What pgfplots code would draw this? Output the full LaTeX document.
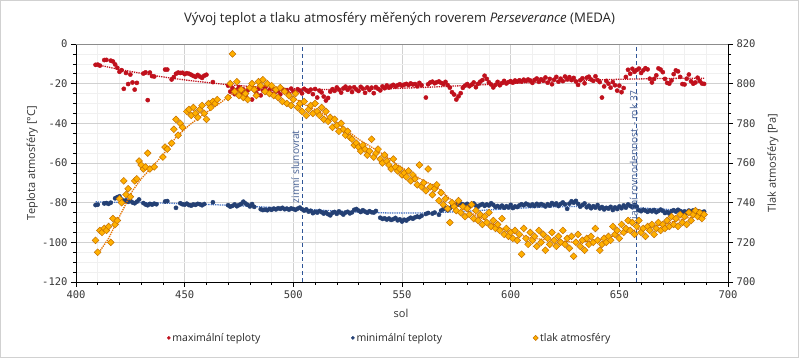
\documentclass[border=0pt]{standalone}
\usepackage{pgfplots}
\pgfplotsset{compat=1.18}
\usepackage{fontspec}
\setmainfont{Open Sans}
\newfontfamily\monofont{DejaVu Sans Mono}
\definecolor{cmax}{RGB}{192,16,28}
\definecolor{cmin}{RGB}{36,64,116}
\definecolor{cminl}{RGB}{68,114,196}
\definecolor{cpfill}{RGB}{255,176,0}
\definecolor{cpedge}{RGB}{196,112,0}
\definecolor{cline}{RGB}{47,85,151}
\definecolor{clab}{RGB}{72,98,150}
\begin{document}
\begin{tikzpicture}[x=1pt,y=1pt]
\useasboundingbox (0,0) rectangle (799,358);
\fill[white] (0,0) rectangle (799,358);
\draw[black!18, line width=1pt] (0.5,0.5) rectangle (798.5,357.5);
\node[font=\fontsize{13.2}{15}\selectfont, text=black!85] at (399.5,339) {Vývoj teplot a tlaku atmosféry měřených roverem \textit{Perseverance} (MEDA)};

\begin{axis}[
  at={(76pt,76pt)}, anchor=south west, scale only axis,
  width=652pt, height=238pt,
  xmin=400, xmax=700, ymin=-120, ymax=0,
  axis x line*=bottom, axis y line*=left,
  xtick={400,450,...,700}, ytick={-120,-100,...,0},
  minor x tick num=4, minor y tick num=3,
  grid=both, major grid style={draw=black!18, line width=0.8pt}, minor grid style={draw=black!6, line width=0.6pt},
  tick align=outside, major tick length=5pt, minor tick length=3pt,
  every tick/.style={black, line width=0.6pt},
  axis line style={black, line width=0.8pt},
  /pgf/number format/assume math mode=true,
  /pgf/number format/1000 sep={},
  ticklabel style={font=\monofont\fontsize{10.5}{12}\selectfont, text=black!78},
  xlabel={sol}, ylabel={Teplota atmosféry [°C]},
  label style={font=\fontsize{11}{13}\selectfont, text=black!80},
  xlabel style={at={(axis description cs:0.4985,-0.13)}, anchor=center},
  ylabel style={at={(axis description cs:-0.067,0.5)}, anchor=center},
  clip=false,
]
\draw[black!45, line width=0.8pt] (rel axis cs:0,1) -- (rel axis cs:1,1);
% minimal temperatures
\addplot[only marks, mark=*, mark size=2.1pt, mark options={draw=cmin, fill=cmin}] table[row sep=\\] {
409 -81.2\\410 -81.0\\413 -80.4\\414 -80.2\\415 -80.6\\416 -80.0\\418 -77.8\\419 -77.2\\420 -76.8\\421 -78.4\\422 -79.2\\423 -78.8\\424 -79.6\\425 -79.0\\426 -79.9\\427 -80.3\\428 -79.5\\429 -78.4\\
431 -80.2\\432 -80.9\\433 -81.3\\434 -80.6\\435 -81.0\\436 -80.5\\437 -80.8\\441 -79.4\\442 -79.2\\446 -82.6\\448 -80.3\\449 -80.8\\450 -81.0\\451 -80.5\\452 -81.2\\453 -81.5\\454 -80.9\\455 -81.1\\456 -80.6\\457 -80.8\\458 -81.3\\459 -80.7\\463 -79.8\\
470 -81.3\\471 -82.0\\472 -81.6\\473 -80.9\\474 -81.8\\475 -81.2\\476 -80.6\\477 -79.5\\478 -80.4\\479 -81.1\\480 -81.9\\481 -80.7\\482 -82.1\\485 -83.3\\486 -83.7\\487 -83.5\\488 -83.8\\489 -83.2\\490 -83.6\\
491 -83.0\\492 -83.4\\493 -82.8\\494 -83.1\\495 -82.6\\496 -83.3\\497 -83.0\\498 -83.5\\499 -82.9\\500 -83.2\\501 -83.6\\502 -83.0\\503 -82.5\\504 -83.3\\505 -84.0\\506 -83.4\\507 -84.5\\508 -84.1\\509 -85.3\\510 -84.6\\
511 -85.0\\512 -84.2\\513 -84.8\\514 -85.5\\515 -84.9\\516 -85.8\\517 -86.4\\518 -85.1\\519 -84.7\\520 -85.6\\521 -84.4\\522 -85.2\\523 -86.0\\524 -85.0\\525 -84.6\\526 -85.4\\527 -84.9\\528 -83.6\\529 -83.2\\530 -84.0\\
531 -84.7\\532 -83.8\\533 -84.5\\534 -85.1\\535 -84.3\\536 -84.8\\537 -85.0\\538 -84.2\\540 -87.6\\541 -88.2\\542 -87.9\\543 -88.5\\544 -88.0\\545 -88.7\\546 -88.3\\547 -87.7\\548 -88.9\\549 -88.4\\550 -89.5\\
551 -88.6\\552 -89.0\\553 -88.2\\554 -87.6\\555 -88.1\\556 -87.4\\557 -87.0\\558 -87.3\\559 -86.6\\561 -85.7\\562 -85.2\\564 -85.5\\565 -85.0\\567 -86.1\\568 -84.0\\569 -83.3\\570 -82.6\\
571 -83.8\\572 -82.9\\573 -81.9\\574 -81.2\\575 -80.7\\576 -81.0\\577 -80.5\\578 -80.8\\579 -81.3\\580 -80.6\\581 -81.8\\582 -81.0\\583 -80.4\\584 -81.5\\585 -82.0\\586 -81.2\\587 -80.7\\588 -81.6\\589 -80.9\\590 -81.4\\
591 -80.3\\592 -81.1\\593 -82.2\\594 -81.7\\595 -82.3\\596 -81.5\\597 -82.6\\598 -81.8\\599 -82.4\\600 -81.1\\601 -82.7\\602 -81.9\\603 -82.2\\604 -81.4\\605 -80.8\\606 -81.3\\607 -80.5\\608 -81.0\\609 -81.6\\610 -80.9\\
611 -81.7\\612 -80.6\\613 -81.4\\614 -80.7\\615 -81.2\\616 -81.9\\617 -80.8\\618 -81.5\\619 -80.2\\620 -81.0\\621 -80.4\\622 -81.7\\623 -80.6\\624 -79.9\\625 -80.8\\626 -83.1\\627 -80.5\\628 -79.3\\629 -80.0\\630 -79.1\\
631 -80.6\\632 -82.0\\633 -81.2\\634 -80.4\\635 -82.3\\636 -81.5\\637 -82.8\\638 -81.8\\639 -82.5\\640 -81.2\\641 -82.9\\642 -82.2\\643 -83.4\\644 -82.6\\645 -83.0\\646 -82.1\\647 -83.7\\648 -82.4\\649 -83.2\\650 -81.9\\
651 -82.8\\652 -81.4\\653 -82.5\\654 -80.9\\655 -81.6\\656 -82.3\\657 -81.1\\658 -82.0\\659 -83.8\\660 -84.3\\661 -83.6\\662 -84.0\\663 -84.6\\664 -83.9\\665 -84.4\\666 -83.7\\667 -84.8\\668 -84.2\\669 -83.5\\670 -84.1\\
671 -85.2\\672 -84.7\\673 -85.5\\674 -84.3\\675 -83.8\\676 -84.5\\677 -83.6\\678 -84.2\\679 -85.0\\680 -84.4\\681 -85.3\\682 -84.0\\683 -84.6\\684 -83.9\\685 -85.1\\686 -84.3\\687 -85.6\\688 -84.8\\689 -84.5\\
};
% maximal temperatures
\addplot[only marks, mark=*, mark size=2.1pt, mark options={draw=cmax, fill=cmax}] table[row sep=\\] {
409 -10.5\\410 -10.4\\411 -10.9\\413 -8.1\\414 -8.0\\416 -8.4\\417 -8.8\\418 -10.3\\419 -12.0\\420 -14.0\\421 -13.2\\422 -22.6\\423 -14.6\\424 -20.2\\425 -15.4\\426 -19.4\\427 -23.0\\428 -19.6\\
431 -14.9\\432 -14.3\\433 -28.3\\434 -14.4\\435 -16.2\\436 -16.4\\441 -12.9\\442 -12.9\\444 -17.9\\445 -16.7\\446 -15.0\\447 -14.4\\448 -14.6\\449 -14.5\\450 -15.2\\451 -14.7\\452 -15.0\\453 -15.5\\454 -16.1\\455 -16.6\\
456 -15.6\\457 -16.4\\458 -17.1\\459 -16.0\\460 -15.5\\463 -19.2\\
470 -21.0\\471 -24.0\\472 -22.2\\473 -25.3\\474 -23.1\\475 -21.7\\476 -24.6\\477 -22.9\\478 -25.8\\479 -23.4\\480 -22.1\\481 -28.0\\482 -23.0\\483 -24.8\\484 -22.6\\485 -25.9\\486 -23.5\\487 -21.9\\488 -24.3\\489 -23.2\\490 -25.1\\
491 -22.8\\492 -24.0\\493 -23.6\\494 -25.4\\495 -22.7\\496 -24.2\\497 -23.3\\498 -25.0\\499 -22.5\\500 -23.9\\501 -24.6\\502 -22.8\\503 -23.5\\504 -24.9\\505 -22.6\\506 -23.4\\507 -24.1\\508 -23.0\\509 -25.3\\510 -22.7\\
511 -27.0\\512 -23.5\\513 -24.4\\514 -26.5\\515 -28.5\\516 -27.2\\517 -24.0\\518 -22.8\\519 -23.6\\520 -21.9\\521 -23.0\\522 -24.5\\523 -22.4\\524 -21.5\\525 -23.1\\526 -22.0\\527 -24.2\\528 -21.8\\529 -22.9\\530 -23.7\\
531 -21.6\\532 -22.5\\533 -24.6\\534 -21.9\\535 -23.2\\536 -22.0\\537 -24.8\\538 -21.7\\539 -22.6\\540 -23.4\\541 -21.4\\542 -22.3\\543 -20.9\\544 -22.0\\545 -21.2\\546 -20.6\\547 -21.5\\548 -20.8\\549 -20.3\\550 -21.0\\
551 -20.5\\552 -20.1\\553 -20.7\\554 -19.9\\555 -20.4\\556 -20.2\\557 -21.3\\558 -19.6\\559 -20.8\\561 -27.0\\562 -20.3\\563 -19.4\\564 -19.0\\565 -19.8\\566 -19.3\\567 -18.9\\568 -19.6\\569 -20.2\\570 -19.1\\
571 -20.7\\572 -22.0\\573 -24.3\\574 -25.5\\575 -28.0\\576 -26.4\\577 -24.8\\578 -22.1\\579 -21.0\\580 -20.2\\581 -21.3\\582 -20.5\\583 -19.4\\584 -21.8\\585 -20.1\\586 -19.0\\587 -18.2\\588 -16.0\\589 -17.6\\590 -19.3\\
591 -20.4\\592 -21.9\\593 -20.6\\594 -19.1\\595 -20.8\\596 -19.7\\597 -18.6\\598 -19.9\\599 -19.2\\600 -18.7\\601 -19.5\\602 -18.4\\603 -19.0\\604 -18.3\\605 -18.9\\606 -18.0\\607 -18.6\\608 -17.9\\609 -18.4\\610 -19.6\\
611 -18.1\\612 -17.4\\613 -19.1\\614 -17.8\\615 -18.5\\616 -16.9\\617 -19.5\\618 -17.6\\619 -20.3\\620 -18.0\\621 -16.6\\622 -19.0\\623 -17.5\\624 -18.7\\625 -16.4\\626 -17.8\\627 -16.7\\628 -18.2\\629 -17.1\\630 -18.9\\
631 -20.6\\632 -18.3\\633 -17.3\\634 -19.8\\635 -17.0\\636 -16.5\\637 -17.9\\638 -18.6\\639 -16.3\\640 -18.2\\641 -19.2\\642 -27.0\\643 -21.4\\644 -18.6\\645 -20.0\\646 -22.0\\647 -19.2\\648 -20.8\\649 -23.5\\650 -21.0\\
651 -24.3\\652 -22.2\\653 -16.6\\654 -13.0\\655 -15.0\\656 -12.5\\657 -14.0\\658 -13.1\\659 -12.4\\660 -14.6\\661 -13.3\\662 -12.2\\663 -12.8\\664 -17.5\\665 -19.4\\666 -17.6\\667 -15.8\\668 -12.3\\669 -12.9\\670 -14.2\\
671 -17.6\\672 -19.6\\673 -20.0\\674 -18.4\\675 -15.2\\676 -13.3\\677 -13.8\\678 -16.6\\679 -20.2\\680 -20.4\\681 -17.5\\682 -15.4\\683 -18.8\\684 -20.0\\685 -19.4\\686 -17.0\\687 -18.6\\688 -19.9\\689 -20.1\\
};
% trend lines
\addplot[cmax, densely dotted, line width=1.3pt, smooth] coordinates {(409,-10.3)(420,-12.8)(430,-14.8)(440,-16.6)(450,-18.1)(460,-19.4)(470,-20.5)(480,-21.4)(490,-22.1)(500,-22.6)(510,-22.9)(520,-23.0)(530,-22.9)(540,-22.7)(550,-22.3)(560,-21.9)(570,-21.4)(580,-20.9)(590,-20.4)(600,-19.9)(610,-19.4)(620,-18.9)(630,-18.5)(640,-18.1)(650,-17.8)(660,-17.6)(670,-17.4)(680,-17.3)(689,-17.3)};
\addplot[cminl, densely dotted, line width=1.3pt, smooth] coordinates {(409,-79.6)(440,-80.2)(470,-81.3)(500,-83.0)(520,-84.2)(540,-85.1)(560,-85.2)(580,-84.3)(600,-83.0)(620,-82.1)(640,-82.0)(660,-82.7)(689,-84.4)};
\addplot[cline, dashed, line width=1pt, dash pattern=on 4pt off 3pt] coordinates {(504,-120)(504,0)};
\addplot[cline, dashed, line width=1pt, dash pattern=on 4pt off 3pt] coordinates {(658,-120)(658,0)};
\end{axis}

\begin{axis}[
  at={(76pt,76pt)}, anchor=south west, scale only axis,
  width=652pt, height=238pt,
  xmin=400, xmax=700, ymin=700, ymax=820,
  axis x line=none, axis y line*=right,
  ytick={700,720,...,820}, minor y tick num=3,
  tick align=outside, major tick length=5pt, minor tick length=3pt,
  every tick/.style={black, line width=0.6pt},
  axis line style={black, line width=0.8pt},
  /pgf/number format/assume math mode=true,
  /pgf/number format/1000 sep={},
  ticklabel style={font=\monofont\fontsize{10.5}{12}\selectfont, text=black!78},
  ylabel={Tlak atmosféry [Pa]},
  label style={font=\fontsize{11}{13}\selectfont, text=black!80},
  ylabel style={at={(axis description cs:1.069,0.5)}, anchor=center},
  clip=false,
  legend columns=3,
  legend style={at={(axis description cs:0.135,-0.235)}, anchor=west, draw=none, fill=none,
    font=\fontsize{10.5}{12}\selectfont, text=black!85,
    /tikz/every even column/.append style={column sep=89pt}},
  legend image code/.code={\draw[mark repeat=2,mark phase=2,#1] plot coordinates {(0cm,0cm)(0.1cm,0cm)(0.2cm,0cm)};},
]
\addlegendimage{only marks, mark=*, mark size=1.6pt, mark options={draw=cmax, fill=cmax}}
\addlegendentry{maximální teploty}
\addlegendimage{only marks, mark=*, mark size=1.6pt, mark options={draw=cmin, fill=cmin}}
\addlegendentry{minimální teploty}
\addplot[orange!90!black, densely dotted, line width=1.3pt, forget plot] coordinates {(410,714)(415,722)(420,733)(426,746)(430,752)(435,758)(440,764)(446,773)(452,779)(458,784)(466,790)(472,795)(480,798)(488,799)(494,797)(500,793)(506,789)(512,786)(518,782)(524,777)(530,772)(536,768)(542,764)(548,759)(554,755)(560,751)(566,748)(572,742)(578,737)(585,733)(592,729)(600,725)(610,722)(620,721)(630,720)(640,721)(650,724)(660,727)(670,729)(680,732)(689,734)};
\addplot[only marks, mark=square*, mark size=2.4pt, mark options={rotate=45, draw=cpedge, fill=cpfill, line width=0.5pt}, legend image post style={mark size=1.8pt}] table[row sep=\\] {
409 721\\410 715\\411 726\\412 725\\413 727\\414 726\\415 728\\416 720\\417 732\\418 729\\419 731\\420 742\\421 740\\422 751\\423 744\\424 747\\425 743\\427 751\\428 752\\429 761\\430 759\\431 757\\432 758\\433 765\\434 757\\436 758\\
440 763\\441 768\\442 767\\444 770\\445 777\\446 782\\447 774\\448 780\\449 778\\451 786\\452 787\\453 784\\454 788\\455 785\\456 783\\457 787\\458 789\\459 785\\460 782\\461 790\\462 788\\463 791\\464 790\\465 792\\
470 793\\471 800\\472 815\\473 796\\474 801\\475 794\\476 797\\477 793\\478 795\\479 792\\480 798\\481 800\\482 797\\483 794\\484 801\\485 799\\486 802\\487 796\\488 800\\489 795\\490 799\\
491 794\\492 797\\493 793\\494 798\\495 791\\496 796\\497 790\\498 794\\499 789\\500 792\\501 795\\502 788\\503 790\\504 786\\505 791\\506 784\\507 787\\508 789\\509 785\\510 790\\
511 786\\512 784\\513 788\\514 782\\515 786\\516 781\\517 783\\518 778\\519 782\\520 779\\521 776\\522 780\\523 777\\524 774\\525 776\\526 773\\527 772\\528 769\\529 770\\530 768\\
531 766\\532 769\\533 767\\534 764\\535 766\\536 772\\537 763\\538 765\\539 767\\540 762\\541 760\\542 764\\543 761\\544 759\\545 757\\546 762\\547 758\\548 756\\549 757\\550 754\\
551 755\\552 753\\553 756\\554 751\\555 754\\556 752\\557 749\\558 759\\559 748\\560 750\\561 746\\562 757\\563 748\\564 744\\565 747\\566 749\\567 741\\568 745\\569 739\\570 742\\
571 737\\572 730\\573 740\\574 738\\575 736\\576 741\\577 735\\578 738\\579 733\\580 737\\581 734\\582 739\\583 732\\584 736\\585 731\\586 734\\587 729\\588 733\\589 730\\590 735\\
591 728\\592 731\\593 727\\594 729\\595 726\\596 732\\597 724\\598 727\\599 723\\600 725\\601 722\\602 726\\603 721\\604 724\\605 714\\606 727\\607 722\\608 719\\609 725\\610 721\\
611 723\\612 718\\613 726\\614 720\\615 724\\616 716\\617 722\\618 719\\619 725\\620 721\\621 718\\622 723\\623 720\\624 726\\625 719\\626 722\\627 717\\628 723\\629 713\\630 720\\
631 724\\632 718\\633 721\\634 716\\635 722\\636 719\\637 723\\638 720\\639 727\\640 721\\641 716\\642 719\\643 722\\644 720\\645 723\\646 721\\647 728\\648 724\\649 726\\650 722\\
651 729\\652 725\\653 727\\654 731\\655 726\\656 730\\657 724\\658 728\\659 731\\660 725\\661 727\\662 723\\663 728\\664 726\\665 729\\666 724\\667 727\\668 730\\669 726\\670 729\\
671 727\\672 731\\673 728\\674 733\\675 729\\676 732\\677 728\\678 734\\679 730\\680 733\\681 729\\682 735\\683 731\\684 734\\685 736\\686 733\\687 735\\688 732\\689 734\\
};
\addlegendentry{tlak atmosféry}
\node[rotate=90, anchor=south east, inner sep=2.5pt, font=\fontsize{10.2}{12}\selectfont, text=clab] at (axis cs:504,777.7) {zimní slunovrat};
\node[rotate=90, anchor=base east, inner sep=0pt, font=\fontsize{10.2}{12}\selectfont, text=clab] at (axis cs:658.4,796.8) {jarní rovnodennost - rok 37};
\end{axis}
\end{tikzpicture}
\end{document}
